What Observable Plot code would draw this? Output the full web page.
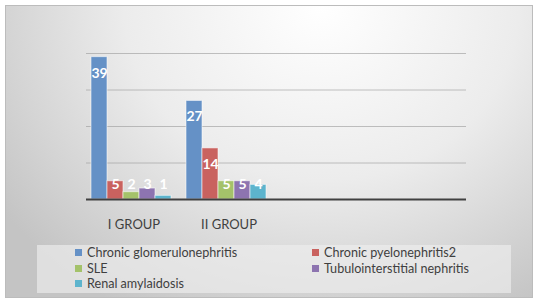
<!DOCTYPE html>
<html>
<head>
<meta charset="utf-8">
<script src="https://cdn.jsdelivr.net/npm/d3@7"></script>
<script src="https://cdn.jsdelivr.net/npm/@observablehq/plot@0.6"></script>
<style>
  html, body { margin: 0; padding: 0; background: #fff; }
  #wrap { position: relative; width: 538px; height: 303px; overflow: hidden; background: #fff; }
  #frame { position: absolute; left: 5px; top: 5px; width: 526px; height: 291px; border: 1px solid #bcbcbc;
    background: radial-gradient(ellipse 75% 120% at 60% 0%, #ffffff 0%, #ececec 50%, #c4c4c4 100%); }
  #chart { position: absolute; left: 0; top: 0; }
  #legend { position: absolute; left: 37px; top: 245px; width: 474px; height: 48px;
    background: rgba(238,238,238,0.65); font-family: Lato, sans-serif; font-size: 12.6px; color: #3f3f3f; }
  .item { position: absolute; height: 16px; line-height: 16px; white-space: nowrap; }
  .sw { display: inline-block; width: 7px; height: 7px; margin-right: 5px; vertical-align: 1px; }
</style>
</head>
<body>
<div id="wrap">
  <div id="frame"></div>
  <div id="chart"></div>
  <div id="legend"></div>
</div>
<script>
const groups = ["I GROUP", "II GROUP", " ", "  "];
const series = ["Chronic glomerulonephritis", "Chronic pyelonephritis2", "SLE", "Tubulointerstitial nephritis", "Renal amylaidosis"];
const colors = ["#6591c6", "#c9625f", "#a4c26a", "#8d74b0", "#5db4cd"];
const groupIValues = [39, 5, 2, 3, 1];
const groupIIValues = [27, 14, 5, 5, 4];
const gridTicks = [10, 20, 30, 40];

const data = [];
series.forEach((s, i) => data.push({group: groups[0], series: s, value: groupIValues[i]}));
series.forEach((s, i) => data.push({group: groups[1], series: s, value: groupIIValues[i]}));

const gridData = groups.flatMap(g => gridTicks.map(t => ({group: g, tick: t})));
const baseData = groups.map(g => ({group: g, tick: 0}));

const tall = data.filter(d => d.value >= 8);
const short = data.filter(d => d.value < 8);

const chart = Plot.plot({
  width: 538,
  height: 303,
  marginLeft: 84,
  marginRight: 71,
  marginTop: 53,
  marginBottom: 104,
  style: {background: "transparent", fontFamily: "Lato, sans-serif", overflow: "visible"},
  fx: {domain: groups, padding: 0, label: null, axis: null},
  x: {domain: series, paddingInner: 0, paddingOuter: 0.35, align: 0.3, axis: null},
  y: {domain: [0, 40], axis: null},
  color: {domain: series, range: colors},
  marks: [
    Plot.ruleY(gridData, {fx: "group", y: "tick", stroke: "#9a9a9a", strokeOpacity: 0.6}),
    Plot.barY(data, {fx: "group", x: "series", y: "value", fill: "series", stroke: "#ffffff", strokeOpacity: 0.55, strokeWidth: 1}),
    Plot.ruleY(baseData, {fx: "group", y: "tick", stroke: "#404040", strokeWidth: 2}),
    Plot.axisFx({anchor: "bottom", tickSize: 0, tickPadding: 20, fontSize: 13, fill: "#3f3f3f", label: null}),
    Plot.text(tall, {fx: "group", x: "series", y: "value", text: d => String(d.value), dy: 16, fill: "white", fontSize: 14, fontWeight: "bold"}),
    Plot.text(short, {fx: "group", x: "series", y: () => 0, text: d => String(d.value), dy: -15, fill: "white", fontSize: 14, fontWeight: "bold"})
  ]
});
document.getElementById("chart").appendChild(chart);

const legend = document.getElementById("legend");
const pos = [[38, 0], [275, 0], [38, 1], [275, 1], [38, 2]];
series.forEach((s, i) => {
  const el = document.createElement("div");
  el.className = "item";
  el.style.left = pos[i][0] + "px";
  el.style.top = (0 + pos[i][1] * 15.7) + "px";
  el.innerHTML = `<span class="sw" style="background:${colors[i]}"></span>${s}`;
  legend.appendChild(el);
});
</script>
</body>
</html>
